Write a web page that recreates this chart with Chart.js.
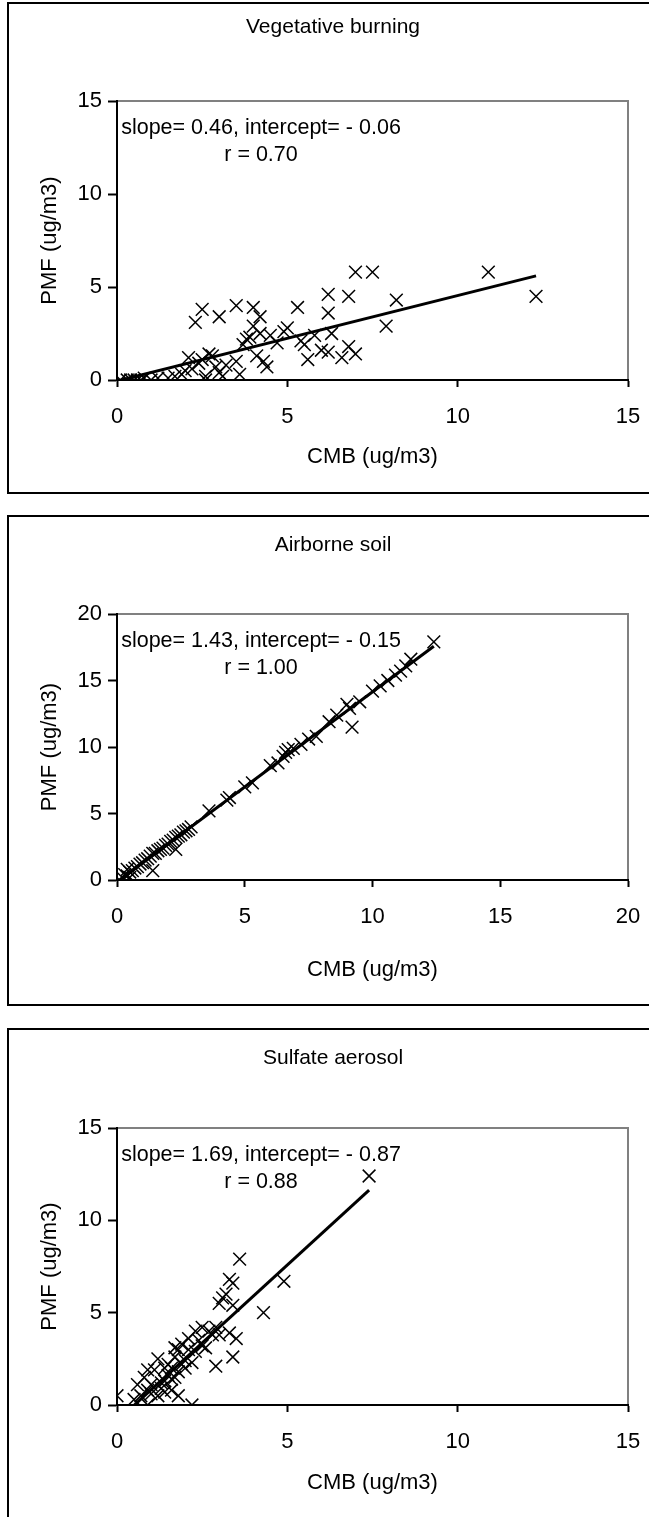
<!DOCTYPE html>
<html>
<head>
<meta charset="utf-8">
<script src="https://cdn.jsdelivr.net/npm/chart.js@4.4.0/dist/chart.umd.min.js"></script>
<style>
  html, body { margin: 0; padding: 0; background: #fff; }
  body { width: 649px; height: 1517px; overflow: hidden; position: relative; }
  .panel { position: absolute; left: 7px; width: 700px; border: 2px solid #000; box-sizing: border-box; }
  canvas { position: absolute; left: 0; }
</style>
</head>
<body>
<div class="panel" style="top:2px;height:492px"></div>
<div class="panel" style="top:515px;height:491px"></div>
<div class="panel" style="top:1028px;height:500px"></div>
<canvas id="chart_veg" width="649" height="494" style="top:0px"></canvas>
<canvas id="chart_soil" width="649" height="490" style="top:515px"></canvas>
<canvas id="chart_sulf" width="649" height="489" style="top:1028px"></canvas>
<script>
// Vegetative burning: CMB (x) vs PMF (y), ug/m3
var vegCmb = [0.1, 0.3, 0.4, 0.5, 0.6, 0.7, 0.8, 1.0, 1.2, 1.5, 1.7, 1.9, 2.0, 2.1, 2.2, 2.3, 2.4, 2.5, 2.5, 2.6,
              2.6, 2.7, 2.8, 2.9, 3.0, 3.0, 3.1, 3.2, 3.5, 3.5, 3.6, 3.7, 3.8, 3.9, 4.0, 4.0, 4.1, 4.2, 4.2, 4.3,
              4.4, 4.5, 4.7, 4.9, 5.0, 5.3, 5.4, 5.5, 5.6, 5.8, 6.0, 6.2, 6.2, 6.2, 6.3, 6.6, 6.8, 6.8, 7.0, 7.0,
              7.5, 7.9, 8.2, 10.9, 12.3];
var vegPmf = [0.0, 0.0, 0.0, 0.0, 0.0, 0.0, 0.1, 0.0, 0.1, 0.1, 0.2, 0.3, 0.5, 1.2, 0.6, 3.1, 0.9, 3.8, 1.1, 0.2,
              0.0, 1.4, 1.3, 0.7, 3.4, 0.4, 0.2, 0.8, 4.0, 1.0, 0.3, 1.9, 2.2, 2.3, 3.9, 2.9, 1.3, 3.4, 2.5, 1.0,
              0.7, 2.4, 2.0, 2.6, 2.8, 3.9, 2.1, 1.9, 1.1, 2.4, 1.6, 1.5, 3.6, 4.6, 2.5, 1.2, 4.5, 1.8, 1.4, 5.8,
              5.8, 2.9, 4.3, 5.8, 4.5];
var vegFitX = [0.1, 12.3];
var vegFitY = [-0.01, 5.6];

// Airborne soil
var soilCmb = [0.1, 0.2, 0.3, 0.4, 0.4, 0.5, 0.5, 0.6, 0.7, 0.8, 0.9, 1.0, 1.1, 1.2, 1.3, 1.4, 1.4, 1.5, 1.6, 1.7,
               1.8, 1.9, 2.0, 2.1, 2.2, 2.3, 2.3, 2.4, 2.5, 2.6, 2.7, 2.8, 2.9, 3.6, 4.3, 4.4, 5.0, 5.3, 6.0, 6.3,
               6.5, 6.6, 6.7, 6.9, 7.2, 7.5, 7.8, 8.3, 8.6, 9.0, 9.1, 9.2, 9.5, 10.0, 10.3, 10.6, 10.9, 11.1, 11.3, 11.5,
               12.4];
var soilPmf = [0.0, 0.2, 0.4, 0.3, 0.8, 0.6, 0.2, 0.7, 0.9, 1.0, 1.2, 1.3, 1.5, 1.6, 1.8, 2.0, 0.7, 2.0, 2.2, 2.3,
               2.4, 2.6, 2.7, 2.9, 3.0, 3.2, 2.3, 3.3, 3.4, 3.6, 3.7, 3.8, 4.0, 5.2, 6.0, 6.2, 7.0, 7.3, 8.6, 8.8,
               9.3, 9.6, 9.8, 9.9, 10.2, 10.6, 10.8, 11.9, 12.4, 13.2, 12.9, 11.5, 13.4, 14.2, 14.6, 15.0, 15.4, 15.7, 16.1, 16.6,
               17.9];
var soilFitX = [0.0, 12.4];
var soilFitY = [-0.15, 17.58];

// Sulfate aerosol
var sulfCmb = [0.0, 0.5, 0.6, 0.7, 0.8, 0.9, 0.9, 0.9, 1.0, 1.0, 1.1, 1.2, 1.2, 1.3, 1.3, 1.4, 1.4, 1.4, 1.5, 1.5,
               1.6, 1.6, 1.6, 1.7, 1.7, 1.7, 1.8, 1.8, 1.8, 1.9, 1.9, 2.0, 2.0, 2.1, 2.1, 2.2, 2.2, 2.3, 2.3, 2.4,
               2.5, 2.5, 2.6, 2.7, 2.8, 2.9, 2.9, 3.0, 3.0, 3.1, 3.2, 3.3, 3.3, 3.4, 3.4, 3.4, 3.5, 3.6, 4.3, 4.9,
               7.4];
var sulfPmf = [0.5, 0.3, 1.1, 0.5, 1.5, 1.9, 0.0, 0.8, 1.1, 0.6, 1.9, 2.5, 0.5, 1.2, 0.9, 2.0, 1.3, 0.7, 1.6, 2.2,
               2.0, 0.8, 1.4, 2.6, 1.5, 3.1, 1.8, 0.5, 3.0, 3.3, 2.2, 2.4, 2.0, 3.6, 3.0, 2.3, 0.0, 2.9, 4.0, 3.5,
               4.2, 3.2, 3.1, 4.0, 3.8, 4.2, 2.1, 5.5, 3.8, 5.8, 6.0, 6.8, 3.9, 6.6, 5.4, 2.6, 3.6, 7.9, 5.0, 6.7,
               12.4];
var sulfFitX = [0.5, 7.4];
var sulfFitY = [-0.02, 11.64];

var xTitle = 'CMB (ug/m3)';
var yTitle = 'PMF (ug/m3)';

Chart.defaults.font.family = "'Liberation Sans', Arial, sans-serif";
Chart.defaults.font.size = 22;
Chart.defaults.color = '#000';

function toPoints(xs, ys) {
	var pts = [];
	for (var i = 0; i < xs.length; i++) {
		pts.push({x: xs[i], y: ys[i]});
	}
	return pts;
}

// gray plot-area frame, panel title and the fit text box
var panelDeco = {
	id: 'panelDeco',
	beforeDraw: function(chart, args, opts) {
		var a = chart.chartArea;
		var ctx = chart.ctx;
		ctx.save();
		ctx.strokeStyle = '#808080';
		ctx.lineWidth = 2;
		ctx.strokeRect(a.left, a.top, a.right - a.left, a.bottom - a.top);
		ctx.restore();
	},
	afterDraw: function(chart, args, opts) {
		var ctx = chart.ctx;
		ctx.save();
		ctx.fillStyle = '#000';
		ctx.textAlign = 'center';
		ctx.textBaseline = 'middle';
		ctx.font = "21px 'Liberation Sans', Arial, sans-serif";
		ctx.fillText(opts.title, 333, opts.titleY);
		ctx.font = "21.5px 'Liberation Sans', Arial, sans-serif";
		ctx.fillText(opts.line1, 261, opts.noteY);
		ctx.fillText(opts.line2, 261, opts.noteY + 27);
		ctx.restore();
	}
};

function makePanel(id, cmb, pmf, fitX, fitY, axisMax, lay, texts) {
	var canvas = document.getElementById(id);
	var h = canvas.height;
	var ctx = canvas.getContext('2d');
	var config = {
		type: 'scatter',
		data: {
			datasets: [
				{
					data: toPoints(fitX, fitY),
					showLine: true,
					borderColor: '#000',
					borderWidth: 3,
					pointRadius: 0
				},
				{
					data: toPoints(cmb, pmf),
					pointStyle: 'crossRot',
					pointRadius: 9,
					borderColor: '#000',
					borderWidth: 1.5
				}
			]
		},
		options: {
			responsive: false,
			animation: false,
			devicePixelRatio: 1,
			layout: { padding: { top: lay.plotTop, right: 21, left: 0, bottom: 0 } },
			scales: {
				x: {
					type: 'linear',
					min: 0,
					max: axisMax,
					ticks: { stepSize: 5, padding: 17, color: '#000' },
					grid: { drawOnChartArea: false, drawTicks: true, tickLength: 7, tickColor: '#000', tickWidth: 2 },
					border: { display: true, color: '#000', width: 2 },
					title: { display: true, text: xTitle, color: '#000', padding: { top: 0, bottom: lay.xTitleFromBottom - 13 } },
					afterFit: function(scale) {
						scale.height = h - lay.plotBottom;
						// keep the plot edge where the layout padding puts it
						scale.paddingLeft = 0;
						scale.paddingRight = 0;
					}
				},
				y: {
					type: 'linear',
					min: 0,
					max: axisMax,
					ticks: { stepSize: 5, padding: 6, color: '#000' },
					grid: { drawOnChartArea: false, drawTicks: true, tickLength: 9, tickColor: '#000', tickWidth: 2 },
					border: { display: true, color: '#000', width: 2 },
					title: { display: true, text: yTitle, color: '#000', padding: { top: 37, bottom: 0 } },
					afterFit: function(scale) {
						scale.width = 117;
						scale.paddingTop = 0;
						scale.paddingBottom = 0;
					}
				}
			},
			plugins: {
				legend: { display: false },
				tooltip: { enabled: false },
				panelDeco: texts
			}
		},
		plugins: [panelDeco]
	};
	return new Chart(ctx, config);
}

makePanel('chart_veg', vegCmb, vegPmf, vegFitX, vegFitY, 15,
	{ plotTop: 101, plotBottom: 380, xTitleFromBottom: 37 },
	{ title: 'Vegetative burning', titleY: 27, line1: 'slope= 0.46, intercept= - 0.06', line2: 'r = 0.70', noteY: 128 });

makePanel('chart_soil', soilCmb, soilPmf, soilFitX, soilFitY, 20,
	{ plotTop: 99, plotBottom: 365, xTitleFromBottom: 35 },
	{ title: 'Airborne soil', titleY: 30, line1: 'slope= 1.43, intercept= - 0.15', line2: 'r = 1.00', noteY: 126 });

makePanel('chart_sulf', sulfCmb, sulfPmf, sulfFitX, sulfFitY, 15,
	{ plotTop: 100, plotBottom: 377, xTitleFromBottom: 34 },
	{ title: 'Sulfate aerosol', titleY: 30, line1: 'slope= 1.69, intercept= - 0.87', line2: 'r = 0.88', noteY: 127 });
</script>
</body>
</html>
